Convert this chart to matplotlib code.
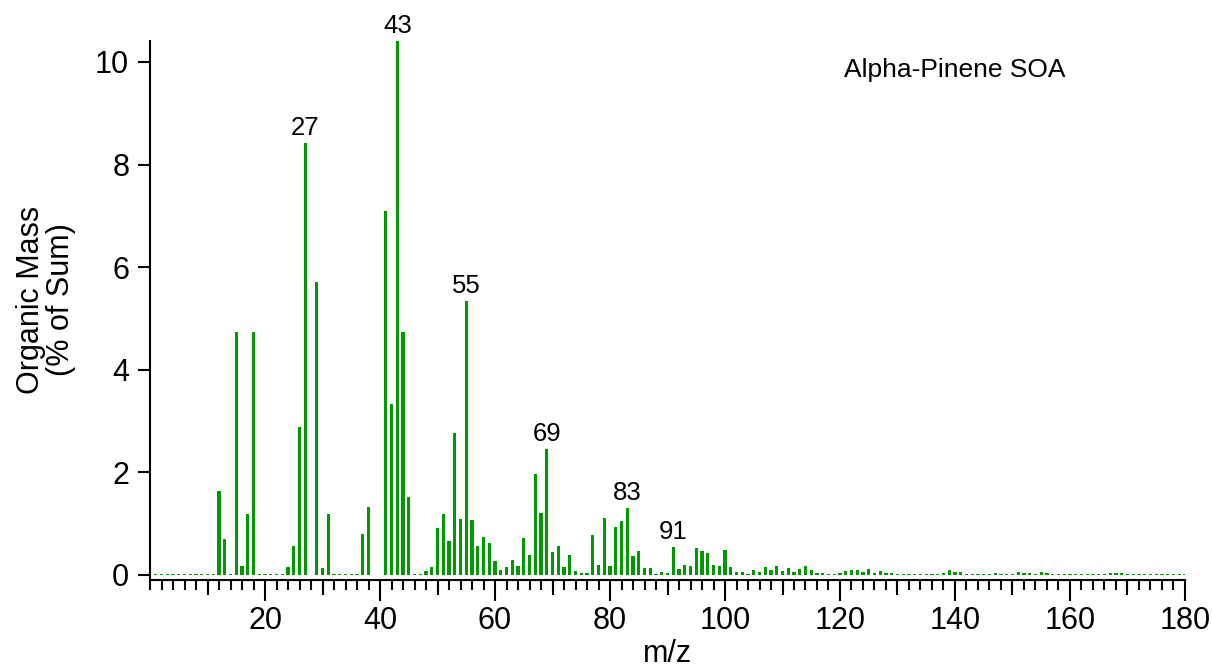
import matplotlib
matplotlib.use("Agg")
import matplotlib.pyplot as plt
from matplotlib.ticker import MultipleLocator, FixedLocator

plt.rcParams['font.family'] = ['Liberation Sans', 'DejaVu Sans']

mz = list(range(1, 181))
values = [
    # 1-10
    0.01, 0.01, 0.01, 0.01, 0.01, 0.01, 0.01, 0.01, 0.01, 0.01,
    # 11-20
    0.01, 1.64, 0.70, 0.01, 4.73, 0.18, 1.19, 4.74, 0.02, 0.02,
    # 21-30
    0.01, 0.01, 0.01, 0.16, 0.57, 2.89, 8.42, 0.00, 5.71, 0.13,
    # 31-40
    1.18, 0.02, 0.02, 0.01, 0.01, 0.01, 0.79, 1.33, 0.00, 0.00,
    # 41-50
    7.10, 3.34, 10.41, 4.74, 1.51, 0.02, 0.02, 0.07, 0.15, 0.92,
    # 51-60
    1.18, 0.66, 2.76, 1.08, 5.34, 1.06, 0.56, 0.73, 0.62, 0.27,
    # 61-70
    0.10, 0.15, 0.29, 0.17, 0.71, 0.39, 1.96, 1.21, 2.45, 0.45,
    # 71-80
    0.57, 0.15, 0.39, 0.08, 0.03, 0.03, 0.78, 0.20, 1.10, 0.18,
    # 81-90
    0.94, 1.05, 1.31, 0.36, 0.47, 0.14, 0.14, 0.01, 0.06, 0.03,
    # 91-100
    0.55, 0.12, 0.20, 0.18, 0.53, 0.47, 0.42, 0.20, 0.17, 0.49,
    # 101-110
    0.15, 0.05, 0.05, 0.02, 0.10, 0.05, 0.16, 0.10, 0.18, 0.07,
    # 111-120
    0.14, 0.06, 0.12, 0.17, 0.10, 0.03, 0.03, 0.02, 0.02, 0.03,
    # 121-130
    0.08, 0.09, 0.09, 0.05, 0.12, 0.03, 0.07, 0.03, 0.03, 0.02,
    # 131-140
    0.02, 0.02, 0.02, 0.02, 0.02, 0.02, 0.02, 0.03, 0.09, 0.05,
    # 141-150
    0.05, 0.02, 0.02, 0.02, 0.02, 0.02, 0.03, 0.01, 0.01, 0.01,
    # 151-160
    0.05, 0.03, 0.03, 0.02, 0.05, 0.03, 0.01, 0.01, 0.01, 0.01,
    # 161-170
    0.01, 0.01, 0.01, 0.01, 0.01, 0.01, 0.03, 0.03, 0.03, 0.02,
    # 171-180
    0.01, 0.01, 0.01, 0.01, 0.01, 0.01, 0.01, 0.01, 0.01, 0.01,
]
labeled_peaks = [27, 43, 55, 69, 83, 91]
x_tick_labels = [20, 40, 60, 80, 100, 120, 140, 160, 180]
mid_ticks = [10, 30, 50, 70, 90, 110, 130, 150, 170]
y_tick_labels = [0, 2, 4, 6, 8, 10]
title_text = "Alpha-Pinene SOA"

fig = plt.figure(figsize=(12.12, 6.72), dpi=100)
ax = fig.add_axes([0.1238, 0.1369, 0.8539, 0.8015])

ax.bar(mz, values, width=0.55, color='#009900', linewidth=0)

for p in labeled_peaks:
    v = values[mz.index(p)]
    ax.annotate(str(p), xy=(p, v), xytext=(0, 2), textcoords='offset points',
                ha='center', va='bottom', fontsize=18.5, annotation_clip=False)

ax.text(140, 9.85, title_text, ha='center', va='center', fontsize=19)

ax.set_xlim(0, 180)
ax.set_ylim(-0.1, 10.4)

ax.spines['top'].set_visible(False)
ax.spines['right'].set_visible(False)
for s in ['left', 'bottom']:
    ax.spines[s].set_linewidth(1.5)

ax.xaxis.set_major_locator(FixedLocator(x_tick_labels))
ax.xaxis.set_minor_locator(MultipleLocator(2))
ax.set_xticklabels([str(t) for t in x_tick_labels])
ax.tick_params(axis='x', which='major', length=15, width=1.5, direction='out', labelsize=22, pad=4)
ax.tick_params(axis='x', which='minor', length=7, width=1.5, direction='out')

mid_ax = ax.secondary_xaxis('bottom')
mid_ax.set_xticks(mid_ticks)
mid_ax.set_xticklabels([])
mid_ax.tick_params(axis='x', length=11, width=1.5, direction='out')
mid_ax.spines['bottom'].set_visible(False)

ax.yaxis.set_major_locator(FixedLocator(y_tick_labels))
ax.set_yticklabels([str(t) for t in y_tick_labels])
ax.tick_params(axis='y', which='major', length=9, width=1.5, direction='out', labelsize=22, pad=6)

ax.set_xlabel('m/z', fontsize=22, labelpad=2)
ax.set_ylabel('Organic Mass\n(% of Sum)', fontsize=22, linespacing=1.0)
ax.yaxis.set_label_coords(-0.072, 0.52)

fig.savefig('out.png', dpi=100)
